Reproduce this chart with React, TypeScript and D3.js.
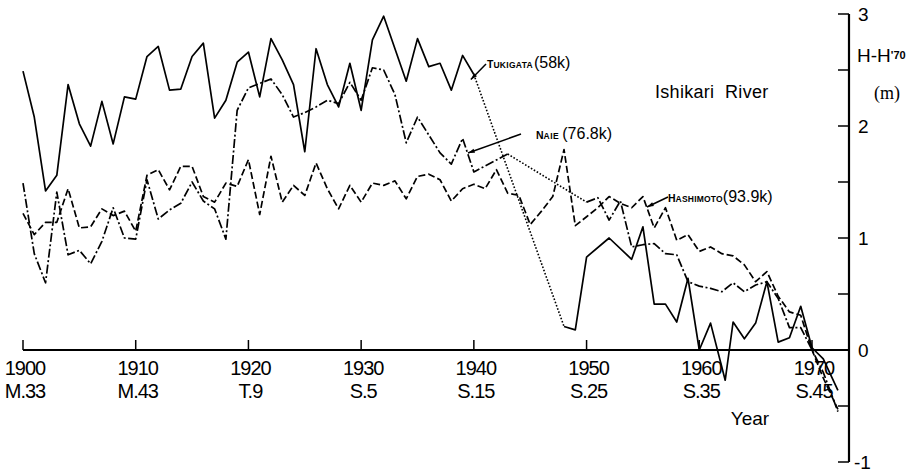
import React from 'react';
import * as d3 from 'd3';

// Ishikari River – annual mean water level relative to 1970 (H - H'70, m)
const tukigataYears = [
  1900, 1901, 1902, 1903, 1904, 1905, 1906, 1907, 1908, 1909,
  1910, 1911, 1912, 1913, 1914, 1915, 1916, 1917, 1918, 1919,
  1920, 1921, 1922, 1923, 1924, 1925, 1926, 1927, 1928, 1929,
  1930, 1931, 1932, 1933, 1934, 1935, 1936, 1937, 1938, 1939,
  1940, 1948, 1949, 1950, 1952, 1954, 1955, 1956, 1957, 1958,
  1959, 1960, 1961, 1962.3, 1963, 1964, 1965, 1966, 1967, 1968,
  1969, 1970, 1971, 1972.3,
];
const tukigataValues = [
  2.49, 2.08, 1.42, 1.56, 2.37, 2.02, 1.82, 2.22, 1.84, 2.26,
  2.24, 2.62, 2.71, 2.32, 2.33, 2.62, 2.74, 2.07, 2.23, 2.57,
  2.66, 2.26, 2.78, 2.59, 2.37, 1.77, 2.69, 2.37, 2.17, 2.56,
  2.14, 2.77, 2.98, 2.69, 2.40, 2.78, 2.53, 2.56, 2.32, 2.63,
  2.46, 0.21, 0.18, 0.83, 1.0, 0.81, 1.10, 0.41, 0.41, 0.25,
  0.64, 0.0, 0.24, -0.27, 0.25, 0.10, 0.24, 0.61, 0.07, 0.11,
  0.39, 0.02, -0.08, -0.36,
];
const tukigataDottedFrom = [1940];

const naieYears = [
  1900, 1901, 1902, 1903, 1904, 1905, 1906, 1907, 1908, 1909,
  1910, 1911, 1912, 1913, 1914, 1915, 1916, 1917, 1918, 1919,
  1920, 1921, 1922, 1923, 1924, 1925, 1926, 1927, 1928, 1929,
  1930, 1931, 1932, 1933, 1934, 1935, 1936, 1937, 1938, 1939,
  1940, 1943, 1950, 1951, 1952, 1953, 1954, 1955, 1956, 1957,
  1958, 1959, 1960, 1961, 1962, 1963, 1964, 1965, 1966, 1967,
  1968, 1969, 1970, 1971, 1972.3,
];
const naieValues = [
  1.49, 0.86, 0.60, 1.41, 0.85, 0.89, 0.77, 0.97, 1.27, 1.0,
  0.99, 1.52, 1.17, 1.25, 1.31, 1.50, 1.33, 1.26, 0.99, 2.14,
  2.34, 2.38, 2.42, 2.28, 2.08, 2.12, 2.17, 2.23, 2.20, 2.39,
  2.23, 2.52, 2.50, 2.28, 1.85, 2.08, 1.92, 1.76, 1.66, 1.89,
  1.59, 1.75, 1.32, 1.36, 1.16, 1.33, 0.92, 0.94, 0.95, 0.86,
  0.85, 0.61, 0.57, 0.55, 0.52, 0.60, 0.52, 0.58, 0.61, 0.46,
  0.20, 0.20, 0.0, -0.20, -0.55,
];
const naieDottedFrom = [1943];

const hashimotoYears = [
  1900, 1901, 1902, 1903, 1904, 1905, 1906, 1907, 1908, 1909,
  1910, 1911, 1912, 1913, 1914, 1915, 1916, 1917, 1918, 1919,
  1920, 1921, 1922, 1923, 1924, 1925, 1926, 1927, 1928, 1929,
  1930, 1931, 1932, 1933, 1934, 1935, 1936, 1937, 1938, 1939,
  1940, 1941, 1942, 1943, 1944, 1945, 1946, 1947, 1948, 1949,
  1950, 1951, 1952, 1953, 1954, 1955, 1956, 1957, 1958, 1959,
  1960, 1961, 1962, 1963, 1964, 1965, 1966, 1967, 1968, 1969,
  1970, 1971, 1972.3,
];
const hashimotoValues = [
  1.22, 1.03, 1.14, 1.14, 1.44, 1.09, 1.10, 1.26, 1.20, 1.24,
  1.06, 1.56, 1.61, 1.43, 1.64, 1.64, 1.37, 1.32, 1.49, 1.46,
  1.70, 1.21, 1.73, 1.32, 1.47, 1.38, 1.67, 1.44, 1.26, 1.47,
  1.32, 1.49, 1.47, 1.51, 1.35, 1.55, 1.57, 1.52, 1.33, 1.44,
  1.48, 1.44, 1.61, 1.40, 1.38, 1.12, 1.24, 1.37, 1.79, 1.11,
  1.19, 1.27, 1.37, 1.31, 1.27, 1.37, 1.09, 1.27, 0.98, 1.03,
  0.88, 0.92, 0.86, 0.84, 0.76, 0.61, 0.70, 0.48, 0.34, 0.31,
  0.0, -0.25, -0.53,
];

const decadeTicks = [1900, 1910, 1920, 1930, 1940, 1950, 1960, 1970];
const eraLabels = ['M.33', 'M.43', 'T.9', 'S.5', 'S.15', 'S.25', 'S.35', 'S.45'];
const yTicks = [3, 2.5, 2, 1.5, 1, 0.5, 0, -0.5, -1];
const yLabels = [3, 2, 1, 0, -1];

const W = 918;
const H = 474;
const FONT = '"Liberation Sans", Arial, sans-serif';

type Seg = { pts: [number, number][]; dotted: boolean };

function splitSegments(years: number[], values: number[], dottedFrom: number[]): Seg[] {
  const segs: Seg[] = [];
  let cur: [number, number][] = [];
  for (let i = 0; i < years.length; i++) {
    cur.push([years[i], values[i]]);
    if (dottedFrom.includes(years[i]) && i < years.length - 1) {
      segs.push({ pts: cur, dotted: false });
      segs.push({ pts: [[years[i], values[i]], [years[i + 1], values[i + 1]]], dotted: true });
      cur = [];
    }
  }
  if (cur.length > 1) segs.push({ pts: cur, dotted: false });
  return segs;
}

const App = () => {
  const x = d3.scaleLinear().domain([1900, 1970]).range([23, 812]);
  const y = d3.scaleLinear().domain([-1, 3]).range([462, 14]);
  const axisX = 849;

  const line = d3.line<[number, number]>()
    .x(d => x(d[0]))
    .y(d => y(d[1]));

  const series = [
    { segs: splitSegments(tukigataYears, tukigataValues, tukigataDottedFrom), dash: 'none' },
    { segs: splitSegments(naieYears, naieValues, naieDottedFrom), dash: '9,2.5,2,2.5' },
    { segs: splitSegments(hashimotoYears, hashimotoValues, []), dash: '7,3' },
  ];

  // leader line with small arrowhead at the data end
  const leader = (x1: number, y1: number, x2: number, y2: number) => {
    const a = Math.atan2(y1 - y2, x1 - x2);
    const len = 7;
    const p1 = [x1 - len * Math.cos(a - 0.3), y1 - len * Math.sin(a - 0.3)];
    const p2 = [x1 - len * Math.cos(a + 0.3), y1 - len * Math.sin(a + 0.3)];
    return (
      <g>
        <line x1={x1} y1={y1} x2={x2} y2={y2} stroke="#000" strokeWidth={1.5} />
        <polygon points={`${x1},${y1} ${p1[0]},${p1[1]} ${p2[0]},${p2[1]}`} fill="#000" />
      </g>
    );
  };

  return (
    <svg width={W} height={H} style={{ position: 'absolute', left: 0, top: 0, background: '#fff' }}
      fontFamily={FONT}>
      <rect width={W} height={H} fill="#fff" />

      {/* data lines */}
      {series.map((s, si) => (
        <g key={si}>
          {s.segs.map((seg, i) => (
            <path key={i} d={line(seg.pts) || ''} fill="none" stroke="#000"
              strokeWidth={seg.dotted ? 1.6 : 1.7}
              strokeDasharray={seg.dotted ? '1.6,1.8' : s.dash}
              strokeLinejoin="round" />
          ))}
        </g>
      ))}

      {/* x axis */}
      <line x1={x(1900)} x2={axisX} y1={y(0)} y2={y(0)} stroke="#000" strokeWidth={2.2} />
      {decadeTicks.map((t, i) => (
        <g key={t}>
          <line x1={x(t)} x2={x(t)} y1={y(0)} y2={y(0) - 10} stroke="#000" strokeWidth={1.5} />
          <text x={x(t) + 2} y={375} fontSize={20} textAnchor="middle" letterSpacing={-1}>{t}</text>
          <text x={x(t) + 2} y={398} fontSize={20} textAnchor="middle" letterSpacing={-1}>{eraLabels[i]}</text>
        </g>
      ))}
      <text x={750} y={425} fontSize={19} textAnchor="middle">Year</text>

      {/* right y axis */}
      <line x1={axisX} x2={axisX} y1={y(3)} y2={y(-1)} stroke="#000" strokeWidth={2.2} />
      {yTicks.map(t => (
        <line key={t} x1={axisX - 11} x2={axisX} y1={y(t)} y2={y(t)} stroke="#000" strokeWidth={1.5} />
      ))}
      {yLabels.map(t => (
        <text key={t} x={t < 0 ? 854 : 858} y={y(t) + 7} fontSize={19}>{t < 0 ? '-' + Math.abs(t) : t}</text>
      ))}
      <text x={857} y={62} fontSize={19}>
        H-H<tspan fontSize={11} dy={-3} fontWeight="bold">'70</tspan>
      </text>
      <text x={874} y={99} fontSize={18} fontFamily='"Liberation Serif", "DejaVu Serif", serif'>(m)</text>

      <text x={655} y={98} fontSize={18} letterSpacing={0.3}>Ishikari{'\u00a0\u00a0'}River</text>

      {/* series labels */}
      {leader(x(1940) - 3, y(2.46) + 5, 486, 64)}
      <text x={487} y={68} fontWeight="bold">
        <tspan fontSize={10.5}>T</tspan><tspan fontSize={8.5} letterSpacing={0.3}>UKIGATA</tspan>
        <tspan fontSize={16} fontWeight="normal" dx={1}>(58k)</tspan>
      </text>

      {leader(468, 153, 521, 134)}
      <text x={536} y={139} fontWeight="bold">
        <tspan fontSize={10.5}>N</tspan><tspan fontSize={8.5} letterSpacing={0.5}>AIE</tspan>
        <tspan fontSize={16} fontWeight="normal" dx={3}>(76.8k)</tspan>
      </text>

      {leader(647, 207, 668, 197)}
      <text x={668} y={202} fontWeight="bold">
        <tspan fontSize={10.5}>H</tspan><tspan fontSize={8.5} letterSpacing={0.2}>ASHIMOTO</tspan>
        <tspan fontSize={16} fontWeight="normal">(93.9k)</tspan>
      </text>
    </svg>
  );
};

export default App;
